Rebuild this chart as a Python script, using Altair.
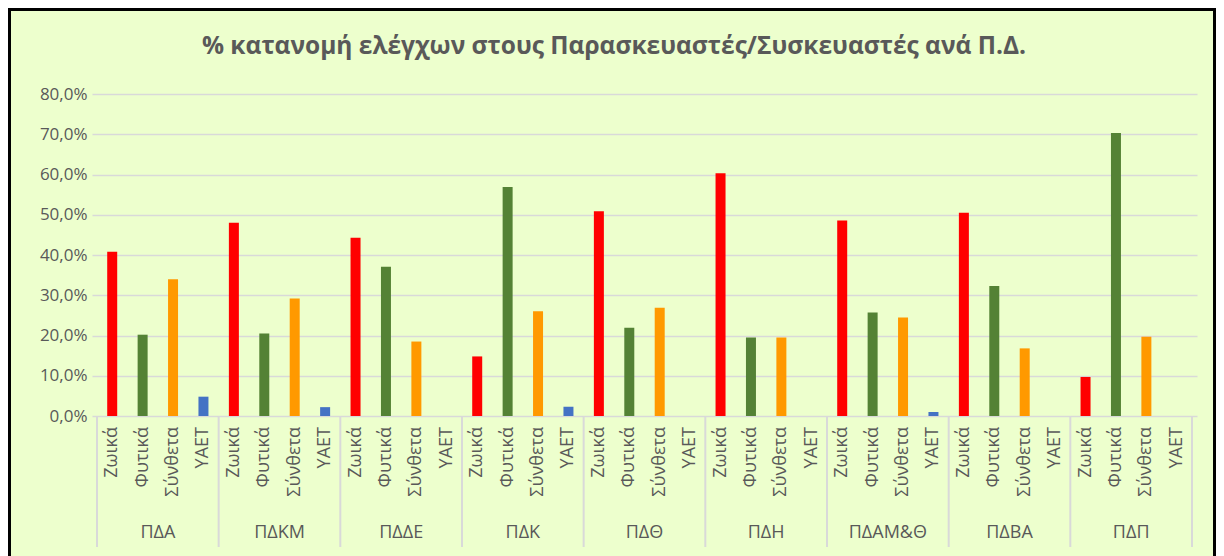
import altair as alt
import pandas as pd

# ---- data ----
groups = ["ΠΔΑ", "ΠΔΚΜ", "ΠΔΔΕ", "ΠΔΚ", "ΠΔΘ", "ΠΔΗ", "ΠΔΑΜ&Θ", "ΠΔΒΑ", "ΠΔΠ"]
categories = ["Ζωικά", "Φυτικά", "Σύνθετα", "ΥΑΕΤ"]
zoika = [40.8, 48.0, 44.3, 14.8, 50.9, 60.3, 48.6, 50.5, 9.7]
fytika = [20.2, 20.5, 37.1, 56.9, 21.9, 19.5, 25.7, 32.3, 70.3]
syntheta = [34.0, 29.2, 18.5, 26.0, 26.9, 19.5, 24.5, 16.8, 19.7]
yaet = [4.8, 2.2, 0.0, 2.3, 0.0, 0.0, 1.0, 0.0, 0.0]
y_ticks = [0.0, 0.1, 0.2, 0.3, 0.4, 0.5, 0.6, 0.7, 0.8]
title_text = "% κατανομή ελέγχων στους Παρασκευαστές/Συσκευαστές ανά Π.Δ."

series = [zoika, fytika, syntheta, yaet]
colors = ["#FF0000", "#548235", "#FF9900", "#4472C4"]

rows = []
for g, grp in enumerate(groups):
    for c, cat in enumerate(categories):
        rows.append({"group": grp, "cat": cat, "pos": g * len(categories) + c,
                     "val": series[c][g] / 100.0})
df = pd.DataFrame(rows)

n = len(categories)
grp_df = pd.DataFrame({"group": groups,
                       "gpos": [g * n + (n - 1) / 2 for g in range(len(groups))]})
sep_df = pd.DataFrame({"spos": [g * n - 0.5 for g in range(len(groups) + 1)]})

W, H = 1105, 322
PAD_L, PAD_T, PAD_R, PAD_B = 84, 86, 19, 150
FONT = "Open Sans"
GREY = "#595959"
GRID = "#D9D9D9"

xscale = alt.Scale(domain=[-0.5, len(groups) * n - 0.5], nice=False, zero=False)

bars = alt.Chart(df).mark_bar(size=10).encode(
    x=alt.X("pos:Q", scale=xscale, axis=None),
    y=alt.Y("val:Q",
            scale=alt.Scale(domain=[0, 0.8], nice=False),
            axis=alt.Axis(values=y_ticks, title=None, domain=False, ticks=False,
                          grid=True, gridColor=GRID, gridWidth=1.5,
                          labelExpr="replace(format(datum.value, '.1%'), '.', ',')",
                          labelFont=FONT, labelFontSize=17, labelColor=GREY,
                          labelPadding=5)),
    color=alt.Color("cat:N", scale=alt.Scale(domain=categories, range=colors), legend=None),
)

cat_labels = alt.Chart(df).mark_text(angle=270, align="right", baseline="middle",
                                     font=FONT, fontSize=18, color=GREY).encode(
    x=alt.X("pos:Q", scale=xscale, axis=None),
    y=alt.value(H + 11),
    text="cat:N",
)

grp_labels = alt.Chart(grp_df).mark_text(align="center", baseline="middle",
                                         font=FONT, fontSize=18, color=GREY).encode(
    x=alt.X("gpos:Q", scale=xscale, axis=None),
    y=alt.value(H + 117),
    text="group:N",
)

seps = alt.Chart(sep_df).mark_rule(color=GRID, strokeWidth=2).encode(
    x=alt.X("spos:Q", scale=xscale, axis=None),
    y=alt.value(H),
    y2=alt.value(H + 131),
)

title = alt.Chart(pd.DataFrame({"t": [title_text]})).mark_text(
    align="center", baseline="middle", font=FONT, fontSize=24.5, fontWeight="bold",
    color=GREY).encode(
    x=alt.value(522), y=alt.value(-47), text="t:N")

frame = alt.Chart(pd.DataFrame({"f": [1]})).mark_rect(
    fillOpacity=0, stroke="black", strokeWidth=3).encode(
    x=alt.value(-PAD_L + 1.5), x2=alt.value(W + PAD_R - 1.5),
    y=alt.value(-PAD_T + 1.5), y2=alt.value(H + 300))

chart = alt.layer(seps, bars, cat_labels, grp_labels, title, frame).properties(
    width=W, height=H,
    autosize=alt.AutoSizeParams(type="none"),
    padding={"left": PAD_L, "top": PAD_T, "right": PAD_R, "bottom": PAD_B},
    background="#EDFFCD",
).configure_view(stroke=None)

chart.save("out.html", embed_options={"renderer": "svg", "actions": False})
